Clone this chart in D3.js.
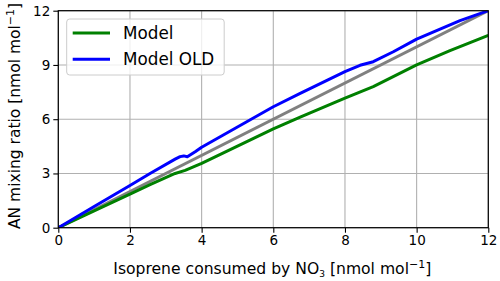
<!DOCTYPE html>
<html><head><meta charset="utf-8">
<script src="https://cdn.jsdelivr.net/npm/d3@7"></script>
<style>html,body{margin:0;padding:0;background:#fff;} text{font-family:"DejaVu Sans",sans-serif;}</style>
</head><body><svg id="c" width="500" height="281"></svg>
<script>
const xTicks = [0, 2, 4, 6, 8, 10, 12];
const yTicks = [0, 3, 6, 9, 12];
const modelX = [0, 1, 2, 2.56, 3.26, 3.54, 4.0, 6.0, 6.75, 8.0, 8.79, 10.0, 10.93, 12];
const modelY = [0, 0.93, 1.86, 2.38, 3.0, 3.17, 3.56, 5.46, 6.12, 7.16, 7.80, 9.0, 9.79, 10.64];
const oldX = [0, 1, 2, 2.56, 3.26, 3.40, 3.5, 3.6, 3.82, 4.0, 6.0, 6.75, 8.0, 8.42, 8.79, 9.35, 10.0, 11.21, 12];
const oldY = [0, 1.17, 2.33, 3.0, 3.79, 3.93, 3.97, 3.92, 4.2, 4.45, 6.69, 7.43, 8.63, 8.98, 9.18, 9.73, 10.43, 11.45, 12];
const refX = [0, 12];
const refY = [0, 12];
const seriesNames = ["Model", "Model OLD"];

const svg = d3.select("#c");
const L = 58.3, R = 488.3, T = 10.7, B = 227.7;
const x = d3.scaleLinear().domain([0, 12]).range([L, R]);
const y = d3.scaleLinear().domain([0, 12]).range([B, T]);

// grid
const g = svg.append("g");
g.selectAll(".gx").data(xTicks).enter().append("line")
  .attr("x1", d => x(d)).attr("x2", d => x(d)).attr("y1", T).attr("y2", B)
  .attr("stroke", "#b0b0b0").attr("stroke-width", 1.1);
g.selectAll(".gy").data(yTicks).enter().append("line")
  .attr("y1", d => y(d)).attr("y2", d => y(d)).attr("x1", L).attr("x2", R)
  .attr("stroke", "#b0b0b0").attr("stroke-width", 1.1);

svg.append("clipPath").attr("id", "clip").append("rect")
  .attr("x", L).attr("y", T).attr("width", R - L).attr("height", B - T);

const line = d3.line().x(d => x(d[0])).y(d => y(d[1]));
const zip = (a, b) => a.map((v, i) => [v, b[i]]);
const lg = svg.append("g").attr("clip-path", "url(#clip)");
lg.append("path").attr("d", line(zip(refX, refY))).attr("fill", "none")
  .attr("stroke", "#808080").attr("stroke-width", 3);
lg.append("path").attr("d", line(zip(modelX, modelY))).attr("fill", "none")
  .attr("stroke", "#008000").attr("stroke-width", 3).attr("stroke-linejoin", "round");
lg.append("path").attr("d", line(zip(oldX, oldY))).attr("fill", "none")
  .attr("stroke", "#0000ff").attr("stroke-width", 3).attr("stroke-linejoin", "round");

// axes
const xa = svg.append("g").attr("transform", `translate(0,${B})`)
  .call(d3.axisBottom(x).tickValues(xTicks).tickSize(5).tickPadding(3).tickFormat(d3.format("d")));
const ya = svg.append("g").attr("transform", `translate(${L},0)`)
  .call(d3.axisLeft(y).tickValues(yTicks).tickSize(5).tickPadding(3).tickFormat(d3.format("d")));
[xa, ya].forEach(a => {
  a.select(".domain").remove();
  a.selectAll("line").attr("stroke", "#000").attr("stroke-width", 1.1);
  a.selectAll("text").attr("font-size", 13.5).attr("fill", "#000").attr("font-family", "DejaVu Sans");
});
svg.append("rect").attr("x", L).attr("y", T).attr("width", R - L).attr("height", B - T)
  .attr("fill", "none").attr("stroke", "#000").attr("stroke-width", 1.2);

// axis labels
const xl = svg.append("text").attr("x", (L + R) / 2 - 1).attr("y", 274).attr("text-anchor", "middle")
  .attr("font-size", 15.6);
xl.append("tspan").text("Isoprene consumed by NO");
xl.append("tspan").text("3").attr("font-size", 9).attr("dy", 3);
xl.append("tspan").text(" [nmol mol").attr("dy", -3);
xl.append("tspan").text("−1").attr("font-size", 11).attr("dy", -6);
xl.append("tspan").text("]").attr("dy", 6);

const yl = svg.append("text").attr("transform", `translate(20,116) rotate(-90)`)
  .attr("text-anchor", "middle").attr("font-size", 15.5);
yl.append("tspan").text("AN mixing ratio [nmol mol");
yl.append("tspan").text("−1").attr("font-size", 11).attr("dy", -6);
yl.append("tspan").text("]").attr("dy", 6);

// legend
const leg = svg.append("g");
leg.append("rect").attr("x", 66.7).attr("y", 19).attr("width", 157.5).attr("height", 56)
  .attr("rx", 3).attr("fill", "#fff").attr("fill-opacity", 0.8).attr("stroke", "#cccccc").attr("stroke-width", 1);
const legColors = ["#008000", "#0000ff"];
seriesNames.forEach((n, i) => {
  const yy = 33 + i * 26.3;
  leg.append("line").attr("x1", 72.7).attr("x2", 110).attr("y1", yy).attr("y2", yy)
    .attr("stroke", legColors[i]).attr("stroke-width", 3);
  leg.append("text").attr("x", 123).attr("y", yy + 6).attr("font-size", 16.8).text(n);
});
</script></body></html>
